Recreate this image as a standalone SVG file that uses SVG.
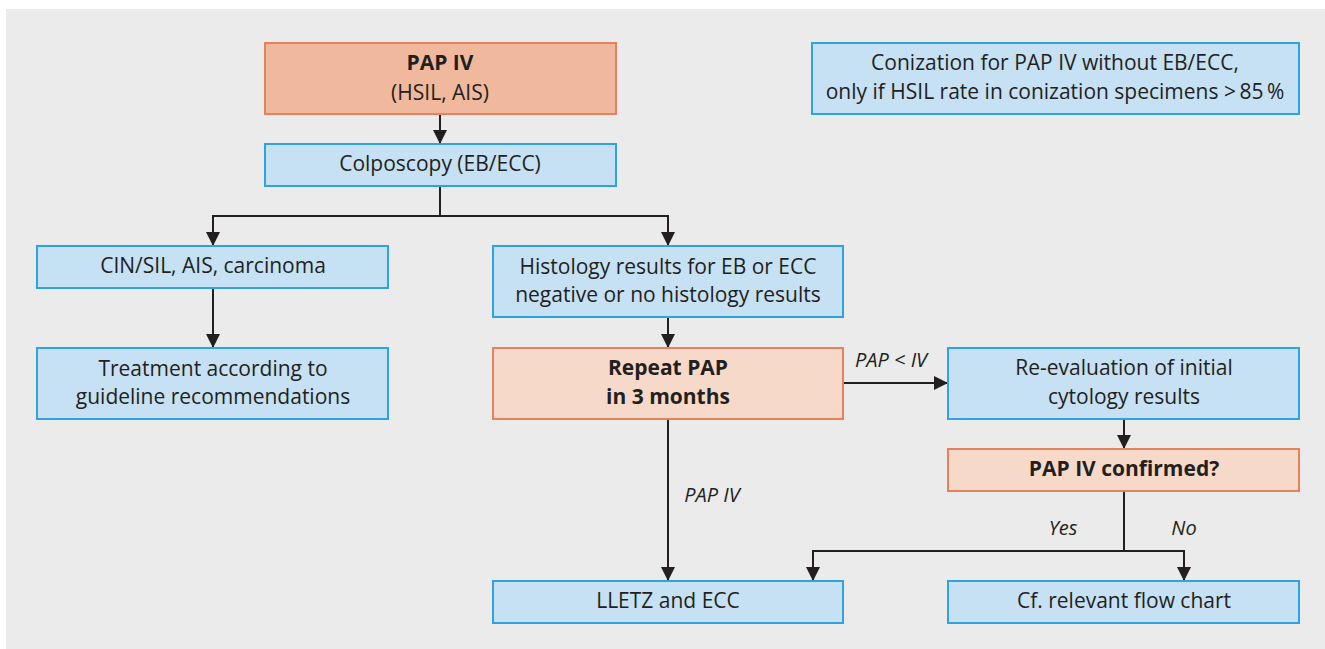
<svg xmlns="http://www.w3.org/2000/svg" width="1325" height="649" viewBox="0 0 1325 649">
<defs>
<style>
.bg{fill:#EAEBEA}
.blue{fill:#C6E1F4;stroke:#2DA3E0;stroke-width:2}
.or1{fill:#F0B99E;stroke:#E4825E;stroke-width:2}
.or2{fill:#F6D9C8;stroke:#E4825E;stroke-width:2}
text{font-family:"Open Sans","Noto Sans","Liberation Sans",sans-serif;font-size:21px;fill:#231F20;text-anchor:middle}
.b{font-weight:bold}
.i{font-style:italic;font-size:20px}
.ln{fill:none;stroke:#231F20;stroke-width:2}
</style>
<marker id="ah" viewBox="0 0 14 14" refX="14" refY="7" markerWidth="14" markerHeight="14" markerUnits="userSpaceOnUse" orient="auto">
<path d="M0,0 L14,7 L0,14 Z" fill="#231F20"/>
</marker>
</defs>
<rect x="6" y="9" width="1319" height="640" class="bg"/>

<g id="connectors">
<line class="ln" x1="440" y1="114" x2="440" y2="144" marker-end="url(#ah)"/>
<polyline class="ln" points="440,186 440,216"/>
<polyline class="ln" points="668,246 668,216 213,216 213,246" marker-end="url(#ah)"/>
<line class="ln" x1="668" y1="216" x2="668" y2="246" marker-end="url(#ah)"/>
<line class="ln" x1="213" y1="288" x2="213" y2="348" marker-end="url(#ah)"/>
<line class="ln" x1="668" y1="317" x2="668" y2="348" marker-end="url(#ah)"/>
<line class="ln" x1="843" y1="383" x2="948" y2="383" marker-end="url(#ah)"/>
<line class="ln" x1="668" y1="419" x2="668" y2="581" marker-end="url(#ah)"/>
<line class="ln" x1="1124" y1="419" x2="1124" y2="449" marker-end="url(#ah)"/>
<polyline class="ln" points="1124,491 1124,551"/>
<polyline class="ln" points="1124,551 813,551 813,581" marker-end="url(#ah)"/>
<polyline class="ln" points="1124,551 1184,551 1184,581" marker-end="url(#ah)"/>
<text class="i" x="891" y="367">PAP &lt; IV</text>
<text class="i" x="712" y="502">PAP IV</text>
<text class="i" x="1063" y="535">Yes</text>
<text class="i" x="1184" y="535">No</text>
</g>

<g id="n-papiv">
<rect class="or1" x="265" y="43" width="351" height="71"/>
<text class="b" x="440" y="70">PAP IV</text>
<text x="440" y="100">(HSIL, AIS)</text>
</g>
<g id="n-conization">
<rect class="blue" x="812" y="43" width="487" height="71"/>
<text x="1055" y="70">Conization for PAP IV without EB/ECC,</text>
<text x="1055" y="99">only if HSIL rate in conization specimens &gt;&#8201;85&#8201;%</text>
</g>
<g id="n-colposcopy">
<rect class="blue" x="265" y="144" width="351" height="42"/>
<text x="440" y="171">Colposcopy (EB/ECC)</text>
</g>
<g id="n-cin">
<rect class="blue" x="37" y="246" width="351" height="42"/>
<text x="213" y="273">CIN/SIL, AIS, carcinoma</text>
</g>
<g id="n-histology">
<rect class="blue" x="493" y="246" width="350" height="71"/>
<text x="668" y="274">Histology results for EB or ECC</text>
<text x="668" y="302">negative or no histology results</text>
</g>
<g id="n-treatment">
<rect class="blue" x="37" y="348" width="351" height="71"/>
<text x="213" y="376">Treatment according to</text>
<text x="213" y="404">guideline recommendations</text>
</g>
<g id="n-repeat">
<rect class="or2" x="493" y="348" width="350" height="71"/>
<text class="b" x="668" y="375">Repeat PAP</text>
<text class="b" x="668" y="404">in 3 months</text>
</g>
<g id="n-reeval">
<rect class="blue" x="948" y="348" width="351" height="71"/>
<text x="1124" y="375">Re-evaluation of initial</text>
<text x="1124" y="404">cytology results</text>
</g>
<g id="n-confirmed">
<rect class="or2" x="948" y="449" width="351" height="42"/>
<text class="b" x="1124" y="476">PAP IV confirmed?</text>
</g>
<g id="n-lletz">
<rect class="blue" x="493" y="581" width="350" height="42"/>
<text x="668" y="608">LLETZ and ECC</text>
</g>
<g id="n-cf">
<rect class="blue" x="948" y="581" width="351" height="42"/>
<text x="1124" y="608">Cf. relevant flow chart</text>
</g>
</svg>
